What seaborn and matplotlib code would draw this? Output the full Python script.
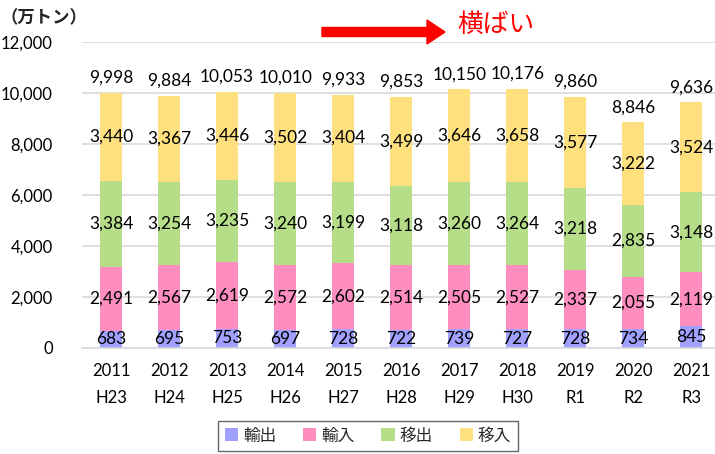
import matplotlib
matplotlib.use('Agg')
import matplotlib.pyplot as plt
import seaborn as sns
import pandas as pd
from matplotlib.patches import Patch, FancyArrow

# data (万トン)
years = ['2011\nH23', '2012\nH24', '2013\nH25', '2014\nH26', '2015\nH27', '2016\nH28',
         '2017\nH29', '2018\nH30', '2019\nR1', '2020\nR2', '2021\nR3']
exports = [683, 695, 753, 697, 728, 722, 739, 727, 728, 734, 845]
imports = [2491, 2567, 2619, 2572, 2602, 2514, 2505, 2527, 2337, 2055, 2119]
move_out = [3384, 3254, 3235, 3240, 3199, 3118, 3260, 3264, 3218, 2835, 3148]
move_in = [3440, 3367, 3446, 3502, 3404, 3499, 3646, 3658, 3577, 3222, 3524]
totals = [9998, 9884, 10053, 10010, 9933, 9853, 10150, 10176, 9860, 8846, 9636]

series_names = ['輸出', '輸入', '移出', '移入']
colors = ['#A0A0FF', '#FF8EC0', '#B6DE88', '#FFE07F']

sns.set_theme(style='white')
plt.rcParams['font.family'] = ['Lato', 'Noto Sans CJK JP', 'DejaVu Sans']

df = pd.DataFrame({'year': years, '輸出': exports, '輸入': imports,
                   '移出': move_out, '移入': move_in})
cum = df[series_names].cumsum(axis=1)

fig = plt.figure(figsize=(7.15, 4.54), dpi=100)
ax = fig.add_axes([82 / 715, 106 / 454, 633 / 715, 306 / 454])

# stacked bars: draw cumulative heights from the top layer down
for name, col in reversed(list(zip(series_names, colors))):
    sns.barplot(x=df['year'], y=cum[name], color=col, width=0.38,
                saturation=1, ax=ax, linewidth=0)

# segment labels
bottoms = [0] * len(years)
for name in series_names:
    for i, v in enumerate(df[name]):
        ax.text(i, bottoms[i] + v / 2, f'{v:,}', ha='center', va='center',
                fontsize=12.5, color='black')
        bottoms[i] += v

for i, t in enumerate(totals):
    ax.annotate(f'{t:,}', (i, bottoms[i]), xytext=(0, 5), textcoords='offset points',
                ha='center', va='bottom', fontsize=12.5, color='black')

ax.set_ylim(0, 12000)
ax.set_xlim(-0.5, 10.41)
ax.set_yticks(range(0, 12001, 2000))
ax.set_yticklabels([f'{v:,}' for v in range(0, 12001, 2000)])
ax.yaxis.grid(True, color='#D9D9D9', linewidth=1.2)
ax.set_axisbelow(True)
for s in ['top', 'right', 'left']:
    ax.spines[s].set_visible(False)
ax.spines['bottom'].set_color('#D9D9D9')
ax.spines['bottom'].set_linewidth(1.2)
ax.tick_params(axis='both', length=0, labelsize=12, colors='black')
ax.tick_params(axis='x', pad=11)
ax.tick_params(axis='y', pad=21)
for lbl in ax.get_xticklabels():
    lbl.set_linespacing(1.8)
ax.set_xlabel('')
ax.set_ylabel('')

fig.text(0 / 715, 1 - 18 / 454, '（万トン）', fontsize=12.5, fontweight='bold',
         va='center', ha='left', family='Noto Sans CJK JP')

# trend arrow and note
fig.add_artist(FancyArrow(3.22, (454 - 32) / 100, 1.23, 0, width=0.09,
                          head_width=0.24, head_length=0.18,
                          length_includes_head=True, color='#FF0000',
                          transform=fig.dpi_scale_trans))
fig.text(457 / 715, 1 - 25 / 454, '横ばい', fontsize=18.5, color='#FF0000',
         va='center', ha='left', family='Noto Sans CJK JP')

handles = [Patch(facecolor=c, edgecolor='none') for c in colors]
fig.legend(handles, series_names, loc='center', bbox_to_anchor=(368 / 715, 1 - 436 / 454),
           ncol=4, frameon=True, fancybox=False, edgecolor='#404040',
           handlelength=0.8, handleheight=0.8, handletextpad=0.3, columnspacing=1.6,
           borderpad=0.4, prop={'family': 'Noto Sans CJK JP', 'size': 12})

fig.savefig('out.png', dpi=100)
